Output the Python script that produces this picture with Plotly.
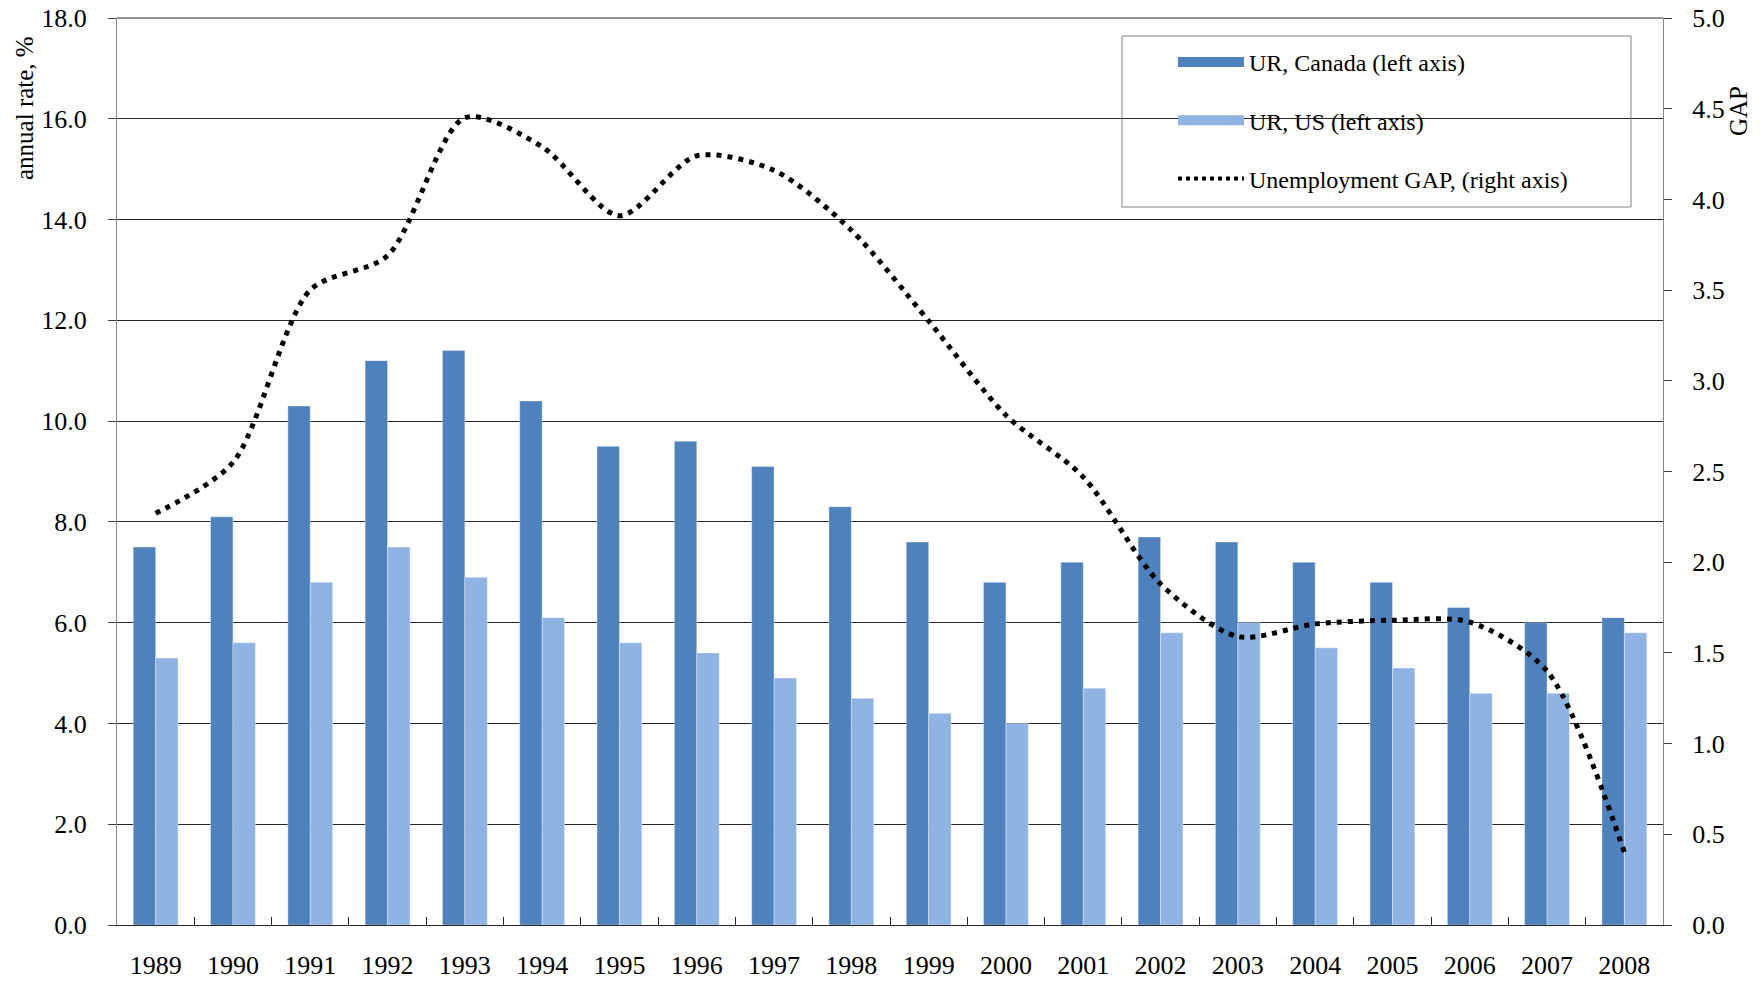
import plotly.graph_objects as go

years = [str(y) for y in range(1989, 2009)]
ur_canada = [7.5, 8.1, 10.3, 11.2, 11.4, 10.4, 9.5, 9.6, 9.1, 8.3,
             7.6, 6.8, 7.2, 7.7, 7.6, 7.2, 6.8, 6.3, 6.0, 6.1]
ur_us = [5.3, 5.6, 6.8, 7.5, 6.9, 6.1, 5.6, 5.4, 4.9, 4.5,
         4.2, 4.0, 4.7, 5.8, 6.0, 5.5, 5.1, 4.6, 4.6, 5.8]
gap = [2.27, 2.55, 3.50, 3.69, 4.45, 4.29, 3.91, 4.24, 4.16, 3.83,
       3.33, 2.81, 2.47, 1.88, 1.59, 1.66, 1.68, 1.67, 1.40, 0.40]

dark_blue = "#4F81BD"
light_blue = "#8FB3E2"
font_family = "Liberation Serif, Times New Roman, serif"

# plot area in page pixels (body margin is removed below)
PX0, PX1, PY0, PY1 = 117, 1663, 18, 925


def px(x):
    return (x - PX0) / (PX1 - PX0)


def py(y):
    return (PY1 - y) / (PY1 - PY0)


fig = go.Figure()

fig.add_trace(go.Bar(x=years, y=ur_canada, marker_color=dark_blue,
                     marker_line=dict(width=1, color="rgba(255,255,255,0.35)"),
                     showlegend=False))
fig.add_trace(go.Bar(x=years, y=ur_us, marker_color=light_blue,
                     marker_line=dict(width=1, color="rgba(255,255,255,0.35)"),
                     showlegend=False))
fig.add_trace(go.Scatter(x=years, y=gap, yaxis="y2", mode="lines",
                         line=dict(color="black", width=5, dash="5px,6px",
                                   shape="spline", smoothing=0.8),
                         showlegend=False))

# legend entries (wide swatches like the original)
fig.add_trace(go.Scatter(x=[None], y=[None], mode="lines", name="UR, Canada (left axis)",
                         line=dict(color=dark_blue, width=13), legendgroup="a"))
fig.add_trace(go.Scatter(x=[None], y=[None], mode="lines", name="UR, US (left axis)",
                         line=dict(color=light_blue, width=13), legendgroup="b"))
fig.add_trace(go.Scatter(x=[None], y=[None], mode="lines", name="Unemployment GAP, (right axis)",
                         line=dict(color="black", width=4, dash="4px,4px"), legendgroup="c"))

fig.update_layout(
    width=1763, height=982,
    margin=dict(l=PX0, r=1763 - PX1, t=PY0, b=982 - PY1),
    plot_bgcolor="white", paper_bgcolor="white",
    font=dict(family=font_family, size=26, color="black"),
    barmode="group", bargap=0.42, bargroupgap=0,
    legend=dict(x=px(1173), y=py(40), xanchor="left", yanchor="top",
                bgcolor="rgba(0,0,0,0)", borderwidth=0,
                itemwidth=66, tracegroupgap=24, traceorder="grouped",
                font=dict(family=font_family, size=24, color="black")),
    xaxis=dict(type="category", showline=True, linecolor="#262626", linewidth=1,
               ticks="inside", tickson="boundaries", ticklen=8, tickcolor="#262626",
               showgrid=False, ticklabelstandoff=17, automargin=False),
    yaxis=dict(range=[0, 18], dtick=2, tickformat=".1f", showgrid=True,
               gridcolor="#262626", gridwidth=1, zeroline=False,
               showline=True, linecolor="#868686", linewidth=1,
               ticks="outside", ticklen=8, tickcolor="#404040",
               ticklabelstandoff=16, ticklabeloverflow="allow", automargin=False),
    yaxis2=dict(range=[0, 5], dtick=0.5, tickformat=".1f", overlaying="y", side="right",
                showgrid=False, zeroline=False, showline=True, linecolor="#868686",
                linewidth=1, ticks="outside", ticklen=8, tickcolor="#404040",
                ticklabelstandoff=15, ticklabeloverflow="allow", automargin=False),
    shapes=[dict(type="rect", xref="paper", yref="paper",
                 x0=px(1122), x1=px(1631), y0=py(207), y1=py(36),
                 line=dict(color="#808080", width=1), fillcolor="rgba(0,0,0,0)"),
            dict(type="line", xref="paper", yref="paper", x0=0, x1=1, y0=1, y1=1,
                 line=dict(color="#262626", width=1))],
    annotations=[
        dict(text="annual rate, %", xref="paper", yref="paper",
             x=px(25), y=py(108), xanchor="center", yanchor="middle", textangle=-90,
             showarrow=False, font=dict(size=25)),
        dict(text="GAP", xref="paper", yref="paper",
             x=px(1739), y=py(111), xanchor="center", yanchor="middle", textangle=-90,
             showarrow=False, font=dict(size=25)),
    ],
)

fig.write_html("out.html", config={"displayModeBar": False},
               post_script="document.body.style.margin='0';document.body.style.overflow='hidden';")
